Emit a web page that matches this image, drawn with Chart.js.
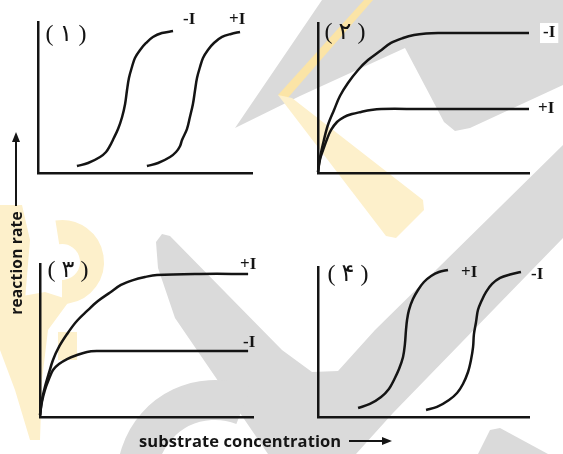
<!DOCTYPE html>
<html>
<head>
<meta charset="utf-8">
<script src="https://cdn.jsdelivr.net/npm/chart.js@4"></script>
<style>
  body { margin: 0; background: #fff; }
  #wrap { position: relative; width: 563px; height: 454px; overflow: hidden; background: #fff; }
  canvas { position: absolute; }
  .axis-title { position: absolute; font-family: 'Open Sans', 'DejaVu Sans', sans-serif; font-weight: 700; color: #151515; white-space: nowrap; }
  #ytitle { left: -46px; top: 254px; width: 124px; height: 18px; line-height: 18px; text-align: center; font-size: 15.5px; letter-spacing: 0.2px; transform: rotate(-90deg); }
  #xtitle { left: 139px; top: 430px; height: 22px; line-height: 22px; font-size: 16.5px; letter-spacing: 0.1px; }
  .stem { position: absolute; background: #151515; }
  .head { position: absolute; width: 0; height: 0; }
</style>
</head>
<body>
<div id="wrap">
  <canvas id="bg" width="563" height="454" style="left:0;top:0"></canvas>
  <canvas id="p1" width="282" height="227" style="left:0;top:0"></canvas>
  <canvas id="p2" width="282" height="227" style="left:281px;top:0"></canvas>
  <canvas id="p3" width="282" height="227" style="left:0;top:227px"></canvas>
  <canvas id="p4" width="282" height="227" style="left:281px;top:227px"></canvas>
  <div id="ytitle" class="axis-title">reaction rate</div>
  <div class="stem" style="left:15px;top:140px;width:2px;height:66px"></div>
  <div class="head" style="left:12px;top:132px;border-left:4px solid transparent;border-right:4px solid transparent;border-bottom:10px solid #151515"></div>
  <div id="xtitle" class="axis-title">substrate concentration</div>
  <div class="stem" style="left:349px;top:440px;width:35px;height:2px"></div>
  <div class="head" style="left:382px;top:437px;border-top:4px solid transparent;border-bottom:4px solid transparent;border-left:10px solid #151515"></div>
</div>
<script>
// values, substrate 0..10, rate 0..10

// panel 1 - sigmoid, inhibitor shifts curve right
const p1MinusS = [1.82, 2.34, 2.90, 3.18, 3.36, 3.50, 3.74, 3.93, 4.07, 4.16, 4.25, 4.39, 4.53, 4.77, 5.05, 5.37, 5.79, 6.31];
const p1MinusV = [0.46, 0.66, 1.06, 1.39, 1.79, 2.19, 2.91, 3.71, 4.57, 5.50, 6.29, 7.02, 7.62, 8.15, 8.61, 9.01, 9.27, 9.40];
const p1PlusS  = [5.09, 5.61, 6.17, 6.45, 6.64, 6.73, 6.96, 7.10, 7.24, 7.34, 7.43, 7.57, 7.71, 7.94, 8.22, 8.60, 9.02, 9.44];
const p1PlusV  = [0.46, 0.66, 1.06, 1.39, 1.79, 2.19, 2.91, 3.71, 4.57, 5.50, 6.29, 7.02, 7.62, 8.15, 8.61, 9.01, 9.21, 9.34];

// panel 2 - hyperbolic, inhibitor lowers plateau
const p2MinusS = [0, 0.09, 0.28, 0.47, 0.76, 1.04, 1.42, 1.90, 2.37, 2.94, 3.46, 4.03, 4.55, 5.12, 5.69, 7.68, 10];
const p2MinusV = [0.07, 1.0, 2.2, 3.2, 4.2, 5.13, 6.0, 6.87, 7.53, 8.13, 8.67, 9.0, 9.2, 9.3, 9.33, 9.33, 9.33];
const p2PlusS  = [0, 0.09, 0.24, 0.43, 0.62, 0.90, 1.23, 1.61, 2.04, 2.51, 2.99, 4.83, 10];
const p2PlusV  = [0.07, 0.87, 1.53, 2.27, 2.87, 3.4, 3.73, 3.93, 4.07, 4.2, 4.27, 4.27, 4.27];

// panel 3 - hyperbolic, inhibitor raises plateau
const p3PlusS  = [0, 0.09, 0.23, 0.42, 0.61, 0.89, 1.27, 1.69, 2.21, 2.72, 3.29, 3.80, 4.37, 4.93, 5.49, 7.51, 9.77];
const p3PlusV  = [0.13, 1.11, 1.96, 2.88, 3.73, 4.58, 5.42, 6.21, 6.93, 7.58, 8.14, 8.63, 8.95, 9.15, 9.28, 9.35, 9.35];
const p3MinusS = [0, 0.09, 0.23, 0.42, 0.61, 0.89, 1.27, 1.74, 2.21, 2.72, 3.29, 6.57, 9.77];
const p3MinusV = [0.13, 0.98, 1.76, 2.48, 3.07, 3.46, 3.79, 4.05, 4.25, 4.31, 4.31, 4.31, 4.31];

// panel 4 - sigmoid, inhibitor shifts curve left
const p4PlusS  = [1.90, 2.46, 2.99, 3.36, 3.60, 3.84, 4.03, 4.12, 4.17, 4.22, 4.31, 4.50, 4.74, 5.02, 5.36, 5.73, 6.16];
const p4PlusV  = [0.6, 0.87, 1.33, 1.87, 2.47, 3.2, 4.0, 4.87, 5.8, 6.47, 7.13, 7.87, 8.47, 9.0, 9.4, 9.67, 9.8];
const p4MinusS = [5.12, 5.64, 6.21, 6.59, 6.87, 7.11, 7.25, 7.35, 7.39, 7.49, 7.58, 7.77, 7.96, 8.25, 8.63, 9.10, 9.62];
const p4MinusV = [0.47, 0.67, 1.13, 1.6, 2.2, 3.0, 3.8, 4.67, 5.53, 6.33, 7.13, 7.8, 8.33, 8.87, 9.27, 9.5, 9.67];

const panelTags = ['( \u06F1 )', '( \u06F2 )', '( \u06F3 )', '( \u06F4 )'];

const INK = '#141414';

function toPoints(xs, ys) {
  return xs.map((x, i) => ({ x: x, y: ys[i] }));
}

// light logo watermark behind the figure
function drawWatermark() {
  const ctx = document.getElementById('bg').getContext('2d');
  const poly = (pts) => {
    ctx.beginPath();
    ctx.moveTo(pts[0][0], pts[0][1]);
    for (let i = 1; i < pts.length; i++) ctx.lineTo(pts[i][0], pts[i][1]);
    ctx.closePath();
    ctx.fill();
  };
  ctx.lineJoin = 'round';
  ctx.fillStyle = '#dadada';
  poly([[235,128],[322,0],[563,0],[563,85],[470,128],[455,131],[444,122],[405,48],[300,96]]);
  poly([[156,242],[162,234],[170,236],[282,350],[312,372],[338,371],[375,330],[563,145],[563,238],[393,413],[356,454],[268,454],[175,318],[158,268]]);
  poly([[490,430],[500,428],[548,454],[478,454]]);
  ctx.strokeStyle = '#dadada';
  ctx.lineWidth = 40;
  ctx.beginPath();
  ctx.arc(215, 478, 78, Math.PI * 0.98, Math.PI * 1.62);
  ctx.stroke();

  ctx.fillStyle = '#fbe4a6';
  poly([[364,0],[373,0],[286,100],[278,95]]);
  ctx.fillStyle = '#fdf0cb';
  poly([[278,95],[292,98],[423,200],[424,210],[396,238],[386,236]]);
  poly([[0,300],[45,292],[70,300],[48,330],[42,380],[40,440],[30,440],[15,390],[0,350]]);
  poly([[0,205],[22,205],[30,240],[25,300],[0,300]]);
  ctx.fillRect(58, 332, 19, 28);
  ctx.strokeStyle = '#fdf0cb';
  ctx.lineWidth = 24;
  ctx.beginPath();
  ctx.arc(62, 262, 30, -Math.PI * 0.55, Math.PI * 0.5);
  ctx.stroke();
}

// curve end labels and panel number
function labelPlugin(tag, tagDx, tagDy, labels) {
  return {
    id: 'curveLabels',
    afterDatasetsDraw(chart) {
      const ctx = chart.ctx;
      const area = chart.chartArea;
      ctx.save();
      ctx.fillStyle = INK;
      ctx.textBaseline = 'middle';
      ctx.textAlign = 'center';
      ctx.font = "24px 'Liberation Serif', 'DejaVu Sans', serif";
      ctx.fillText(tag, area.left + tagDx, area.top + tagDy);
      ctx.textAlign = 'left';
      ctx.font = "bold 17px 'Liberation Serif', serif";
      labels.forEach(l => {
        const pts = chart.getDatasetMeta(l.ds).data;
        const end = pts[pts.length - 1];
        const x = end.x + l.dx, y = end.y + l.dy;
        if (l.box) {
          const w = ctx.measureText(l.text).width;
          ctx.fillStyle = '#fff';
          ctx.fillRect(x - 3, y - 10, w + 6, 20);
          ctx.fillStyle = INK;
        }
        ctx.fillText(l.text, x, y);
      });
      ctx.restore();
    }
  };
}

function axis() {
  return {
    type: 'linear',
    min: 0,
    max: 10,
    grid: { display: false, drawTicks: false },
    ticks: { display: false },
    border: { display: true, color: INK, width: 2.5 }
  };
}

function makePanel(id, series, padding, plugin) {
  new Chart(document.getElementById(id), {
    type: 'line',
    data: {
      datasets: series.map(s => ({
        data: toPoints(s[0], s[1]),
        borderColor: INK,
        borderWidth: 2.5,
        pointRadius: 0,
        tension: 0.35,
        clip: 6
      }))
    },
    options: {
      responsive: false,
      animation: false,
      devicePixelRatio: 1,
      layout: { padding: padding },
      plugins: { legend: { display: false }, tooltip: { enabled: false } },
      scales: { x: axis(), y: axis() }
    },
    plugins: [plugin]
  });
}

drawWatermark();

makePanel('p1', [[p1MinusS, p1MinusV], [p1PlusS, p1PlusV]],
  { left: 38, right: 30, top: 22, bottom: 54 },
  labelPlugin(panelTags[0], 28, 13, [
    { ds: 0, text: '-I', dx: 10, dy: -11 },
    { ds: 1, text: '+I', dx: -11, dy: -12 }
  ]));

makePanel('p2', [[p2MinusS, p2MinusV], [p2PlusS, p2PlusV]],
  { left: 37, right: 34, top: 23, bottom: 54 },
  labelPlugin(panelTags[1], 27, 10, [
    { ds: 0, text: '-I', dx: 14, dy: 0, box: true },
    { ds: 1, text: '+I', dx: 9, dy: 0, box: true }
  ]));

makePanel('p3', [[p3PlusS, p3PlusV], [p3MinusS, p3MinusV]],
  { left: 40, right: 29, top: 37, bottom: 37 },
  labelPlugin(panelTags[2], 28, 7, [
    { ds: 0, text: '+I', dx: -8, dy: -9 },
    { ds: 1, text: '-I', dx: -5, dy: -8 }
  ]));

makePanel('p4', [[p4PlusS, p4PlusV], [p4MinusS, p4MinusV]],
  { left: 37, right: 34, top: 40, bottom: 37 },
  labelPlugin(panelTags[3], 30, 8, [
    { ds: 0, text: '+I', dx: 13, dy: 3 },
    { ds: 1, text: '-I', dx: 10, dy: 3 }
  ]));
</script>
</body>
</html>
